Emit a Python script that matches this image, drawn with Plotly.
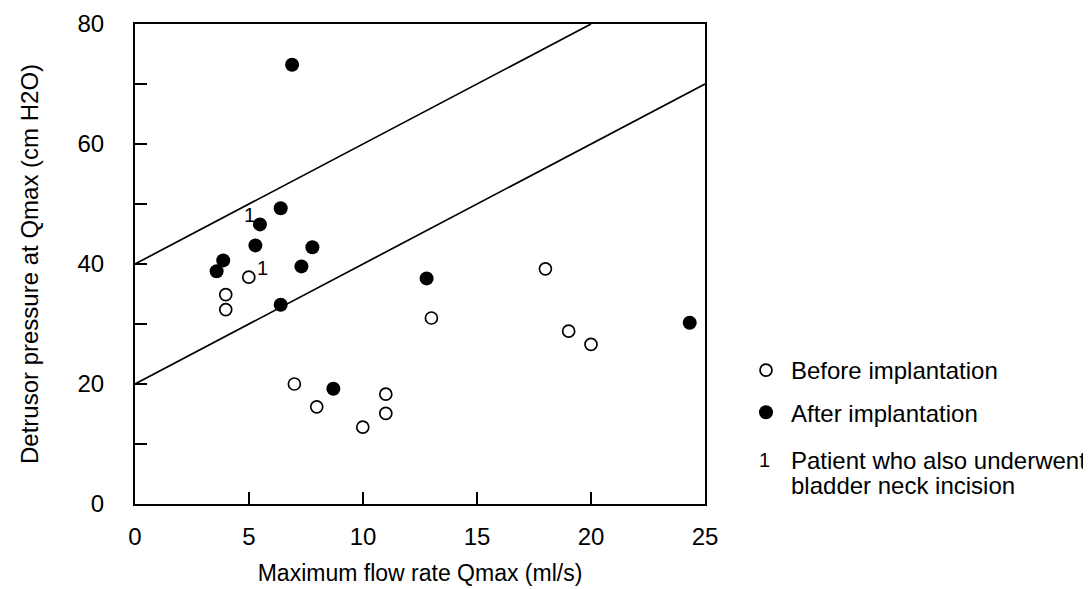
import plotly.graph_objects as go

# Data
before_x = [4.99, 3.98, 3.98, 13.0, 6.99, 7.97, 9.99, 11.0, 11.0, 18.0, 19.02, 20.0]
before_y = [37.8, 34.9, 32.4, 31.0, 20.0, 16.2, 12.8, 18.3, 15.1, 39.2, 28.8, 26.6]

after_x = [6.89, 6.39, 5.48, 5.28, 7.78, 3.87, 3.58, 7.30, 12.79, 6.39, 8.70, 24.33]
after_y = [73.2, 49.3, 46.6, 43.1, 42.8, 40.6, 38.8, 39.6, 37.6, 33.2, 19.2, 30.2]

upper_line_x = [0, 20]
upper_line_y = [40, 80]
lower_line_x = [0, 25]
lower_line_y = [20, 70]

note_x = [5.02, 5.57]
note_y = [48.2, 39.4]
note_text = ["1", "1"]

x_ticks = [0, 5, 10, 15, 20, 25]
y_ticks = [0, 10, 20, 30, 40, 50, 60, 70, 80]
y_ticktext = ["0", "", "20", "", "40", "", "60", "", "80"]

legend_note_lines = ["Patient who also underwent", "bladder neck incision"]

FONT = "Liberation Sans, Arial, sans-serif"
FS = 24

L, R, T, B = 127, 697, 16, 496
W, H = R - L, B - T

def px(xp):
    return (xp - L) / W

def py(yp):
    return (B - yp) / H

fig = go.Figure()

fig.add_trace(go.Scatter(x=upper_line_x, y=upper_line_y, mode="lines",
                         line=dict(color="black", width=1.7), showlegend=False, hoverinfo="skip"))
fig.add_trace(go.Scatter(x=lower_line_x, y=lower_line_y, mode="lines",
                         line=dict(color="black", width=1.7), showlegend=False, hoverinfo="skip"))

fig.add_trace(go.Scatter(x=before_x, y=before_y, mode="markers", name="Before implantation",
                         legendgroup="a",
                         marker=dict(symbol="circle", size=12, color="white",
                                     line=dict(color="black", width=1.7))))
fig.add_trace(go.Scatter(x=after_x, y=after_y, mode="markers", name="After implantation",
                         legendgroup="b",
                         marker=dict(symbol="circle", size=14, color="black",
                                     line=dict(color="black", width=0))))

for xx, yy, tt in zip(note_x, note_y, note_text):
    fig.add_annotation(x=xx, y=yy, text=tt, showarrow=False, xref="x", yref="y",
                       font=dict(family=FONT, size=20, color="black"))

# third legend entry
fig.add_annotation(x=px(756), y=py(452), xref="paper", yref="paper",
                   text="1", showarrow=False, xanchor="center", yanchor="middle",
                   font=dict(family=FONT, size=20, color="black"))
for txt, yy in zip(legend_note_lines, [452, 477]):
    fig.add_annotation(x=px(781), y=py(yy), xref="paper", yref="paper",
                       text=txt, showarrow=False, xanchor="left", yanchor="middle", align="left",
                       font=dict(family=FONT, size=FS, color="black"))

fig.update_layout(
    width=1091, height=589,
    margin=dict(l=L, r=1091 - R, t=T, b=589 - B, autoexpand=False),
    paper_bgcolor="white", plot_bgcolor="white",
    font=dict(family=FONT, size=FS, color="black"),
    legend=dict(x=px(733), xanchor="left", y=py(340), yanchor="top",
                font=dict(family=FONT, size=FS, color="black"), itemwidth=40,
                tracegroupgap=8, traceorder="grouped", bgcolor="rgba(0,0,0,0)"),
    xaxis=dict(range=[0, 25], tickvals=x_ticks, ticks="inside", ticklen=12, tickwidth=1.5,
               tickcolor="black", showline=True, linecolor="black", linewidth=2, mirror=True,
               showgrid=False, zeroline=False, ticklabelstandoff=10,
               tickfont=dict(family=FONT, size=FS),
               title=dict(text="Maximum flow rate Qmax (ml/s)", standoff=16,
                          font=dict(family=FONT, size=23))),
    yaxis=dict(range=[0, 80], tickvals=y_ticks, ticktext=y_ticktext, ticks="inside", ticklen=12,
               tickwidth=1.5, tickcolor="black", showline=True, linecolor="black", linewidth=2,
               mirror=True, showgrid=False, zeroline=False, ticklabelstandoff=24,
               tickfont=dict(family=FONT, size=FS),
               title=dict(text="Detrusor pressure at Qmax (cm H2O)", standoff=32,
                          font=dict(family=FONT, size=FS))),
)

fig.write_html("out.html")
